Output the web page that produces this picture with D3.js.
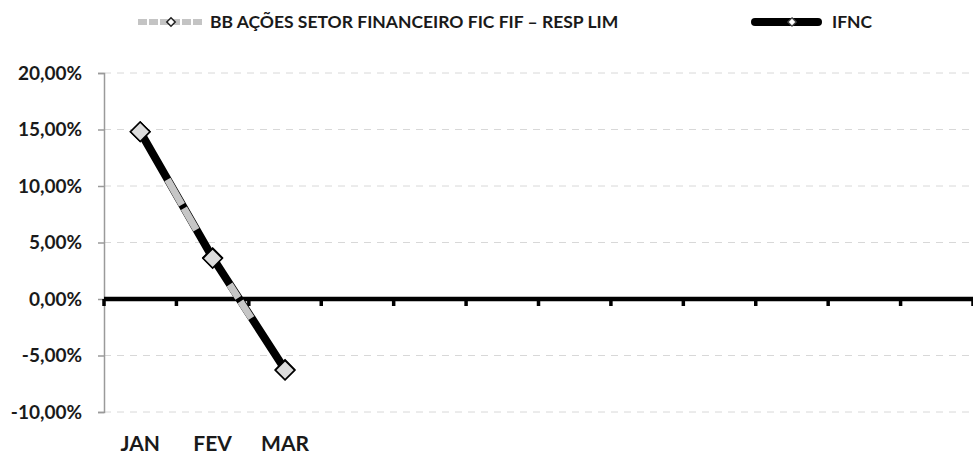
<!DOCTYPE html>
<html>
<head>
<meta charset="utf-8">
<script src="https://cdn.jsdelivr.net/npm/d3@7/dist/d3.min.js"></script>
<style>
  html, body { margin: 0; padding: 0; background: #fff; }
  svg { display: block; font-family: Lato, "Open Sans", "DejaVu Sans", sans-serif; font-weight: 700; }
</style>
</head>
<body>
<svg id="chart" width="973" height="454"></svg>
<script>
// Monthly return, in percent
const months = ["JAN", "FEV", "MAR", "ABR", "MAI", "JUN", "JUL", "AGO", "SET", "OUT", "NOV", "DEZ"];
const fundName = "BB AÇÕES SETOR FINANCEIRO FIC FIF – RESP LIM";
const indexName = "IFNC";
const fundValues = [14.8, 3.6, -6.3];
const indexValues = [14.8, 3.65, -6.25];
const yTicks = [-10, -5, 0, 5, 10, 15, 20];

const svg = d3.select("#chart");
const plotL = 104, plotR = 973, plotT = 73, plotB = 412;

const x = d3.scaleBand().domain(months).range([plotL, plotR]).padding(0);
const y = d3.scaleLinear().domain([-10, 20]).range([plotB, plotT]);
const fmt = v => d3.format(".2f")(v).replace(".", ",").replace("\u2212", "-") + "%";

// dashed horizontal gridlines
svg.append("g").selectAll("line").data(yTicks.filter(d => d !== 0)).join("line")
  .attr("x1", plotL).attr("x2", plotR)
  .attr("y1", d => y(d)).attr("y2", d => y(d))
  .attr("stroke", "#d8d8d8").attr("stroke-width", 1).attr("stroke-dasharray", "7,6");

// value axis
const yAxis = svg.append("g").attr("transform", `translate(${plotL},0)`)
  .call(d3.axisLeft(y).tickValues(yTicks).tickFormat(fmt).tickSize(6).tickPadding(16));
yAxis.select(".domain").attr("stroke", "#9a9a9a").attr("stroke-width", 1.5);
yAxis.selectAll(".tick line").attr("stroke", "#9a9a9a").attr("stroke-width", 1.5);
yAxis.selectAll(".tick text").attr("font-size", 19).attr("font-family", "Lato, sans-serif")
  .attr("font-weight", 700).attr("fill", "#1a1a1a").attr("dy", "0.34em");

// zero line with category ticks
const boundaries = months.map(m => x(m)).concat([plotR]);
svg.append("line").attr("x1", plotL).attr("x2", plotR)
  .attr("y1", y(0)).attr("y2", y(0)).attr("stroke", "#000").attr("stroke-width", 4.5);
svg.append("g").selectAll("line").data(boundaries).join("line")
  .attr("x1", d => d).attr("x2", d => d)
  .attr("y1", y(0)).attr("y2", y(0) + 7)
  .attr("stroke", "#000").attr("stroke-width", 3.5);

// month labels
svg.append("g").selectAll("text").data(months.slice(0, fundValues.length)).join("text")
  .attr("x", d => x(d) + x.bandwidth() / 2).attr("y", 451)
  .attr("text-anchor", "middle").attr("font-size", 21).attr("fill", "#1a1a1a")
  .text(d => d);

const line = d3.line().x((d, i) => x(months[i]) + x.bandwidth() / 2).y(d => y(d));

// index series: solid black
svg.append("path").datum(indexValues).attr("d", line)
  .attr("fill", "none").attr("stroke", "#000").attr("stroke-width", 8);
// fund series: light grey, dashed, over the index
svg.append("path").datum(fundValues).attr("d", line)
  .attr("fill", "none").attr("stroke", "#c6c6c6").attr("stroke-width", 7)
  .attr("stroke-dasharray", "0,55,29,4,25,64,16,4,20,300");

const diamond = d3.symbol().type(d3.symbolDiamond2).size(240);
function markers(vals) {
  svg.append("g").selectAll("path").data(vals).join("path")
    .attr("transform", (d, i) => `translate(${x(months[i]) + x.bandwidth() / 2},${y(d)})`)
    .attr("d", diamond)
    .attr("fill", "#dcdcdc").attr("stroke", "#000").attr("stroke-width", 1.6);
}
markers(indexValues);
markers(fundValues);

// legend
const lg = svg.append("g");
lg.append("line").attr("x1", 138).attr("x2", 203).attr("y1", 22).attr("y2", 22)
  .attr("stroke", "#c4c4c4").attr("stroke-width", 6).attr("stroke-dasharray", "9,2");
lg.append("path").attr("transform", "translate(171,22)")
  .attr("d", d3.symbol().type(d3.symbolDiamond2).size(45))
  .attr("fill", "#fff").attr("stroke", "#222").attr("stroke-width", 1.5);
lg.append("text").attr("x", 210).attr("y", 28).attr("font-size", 17.5)
  .attr("fill", "#1a1a1a").text(fundName);

lg.append("line").attr("x1", 755).attr("x2", 818).attr("y1", 22).attr("y2", 22)
  .attr("stroke", "#000").attr("stroke-width", 8).attr("stroke-linecap", "round");
lg.append("path").attr("transform", "translate(792,22)")
  .attr("d", d3.symbol().type(d3.symbolDiamond2).size(45))
  .attr("fill", "#fff").attr("stroke", "#444").attr("stroke-width", 1.3);
lg.append("text").attr("x", 832).attr("y", 28).attr("font-size", 17.5)
  .attr("fill", "#1a1a1a").text(indexName);
</script>
</body>
</html>
